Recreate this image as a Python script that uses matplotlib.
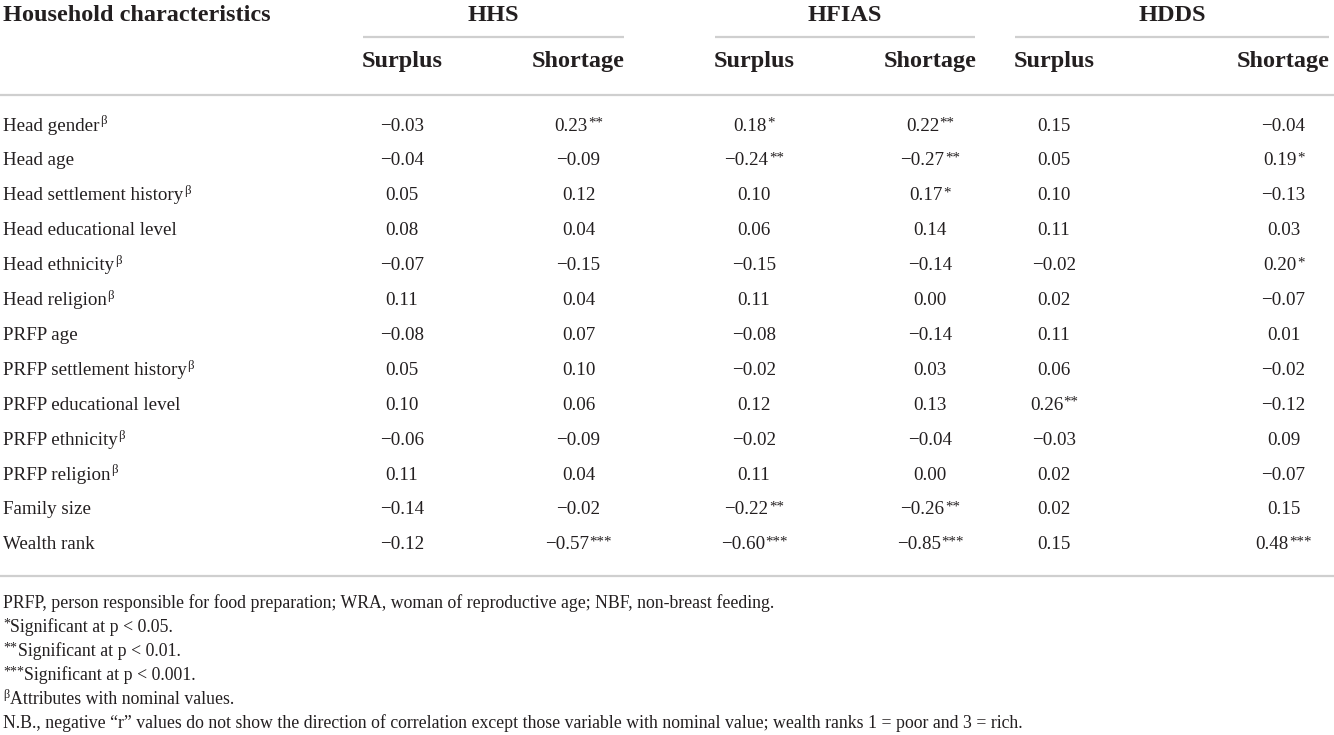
import matplotlib
matplotlib.use("Agg")
import matplotlib.pyplot as plt

plt.rcParams['font.family'] = ['Liberation Serif', 'DejaVu Serif']

# ---- data ----
row_labels = ["Head gender", "Head age", "Head settlement history", "Head educational level",
              "Head ethnicity", "Head religion", "PRFP age", "PRFP settlement history",
              "PRFP educational level", "PRFP ethnicity", "PRFP religion", "Family size", "Wealth rank"]
row_marks = ["β", "", "β", "", "β", "β", "", "β", "", "β", "β", "", ""]
groups = ["HHS", "HFIAS", "HDDS"]
sub_headers = ["Surplus", "Shortage"]

hhs_surplus = ["−0.03", "−0.04", "0.05", "0.08", "−0.07", "0.11", "−0.08", "0.05", "0.10", "−0.06", "0.11", "−0.14", "−0.12"]
hhs_shortage = ["0.23**", "−0.09", "0.12", "0.04", "−0.15", "0.04", "0.07", "0.10", "0.06", "−0.09", "0.04", "−0.02", "−0.57***"]
hfias_surplus = ["0.18*", "−0.24**", "0.10", "0.06", "−0.15", "0.11", "−0.08", "−0.02", "0.12", "−0.02", "0.11", "−0.22**", "−0.60***"]
hfias_shortage = ["0.22**", "−0.27**", "0.17*", "0.14", "−0.14", "0.00", "−0.14", "0.03", "0.13", "−0.04", "0.00", "−0.26**", "−0.85***"]
hdds_surplus = ["0.15", "0.05", "0.10", "0.11", "−0.02", "0.02", "0.11", "0.06", "0.26**", "−0.03", "0.02", "0.02", "0.15"]
hdds_shortage = ["−0.04", "0.19*", "−0.13", "0.03", "0.20*", "−0.07", "0.01", "−0.02", "−0.12", "0.09", "−0.07", "0.15", "0.48***"]
columns = [hhs_surplus, hhs_shortage, hfias_surplus, hfias_shortage, hdds_surplus, hdds_shortage]

footnote_marks = ["", "*", "**", "***", "β", ""]
footnotes = [
    "PRFP, person responsible for food preparation; WRA, woman of reproductive age; NBF, non-breast feeding.",
    "Significant at p < 0.05.",
    "Significant at p < 0.01.",
    "Significant at p < 0.001.",
    "Attributes with nominal values.",
    "N.B., negative \u201cr\u201d values do not show the direction of correlation except those variable with nominal value; wealth ranks 1 = poor and 3 = rich.",
]

# ---- layout (pixels) ----
W, H = 1334, 735
fig = plt.figure(figsize=(W / 100, H / 100), dpi=100)
ax = fig.add_axes([0, 0, 1, 1])
ax.set_xlim(0, W)
ax.set_ylim(H, 0)
ax.axis("off")
renderer = fig.canvas.get_renderer()

txt = "#231f20"
line_c = "#cfcfcf"
hdr_fs = 17.5
body_fs = 13.7
foot_fs = 12.8


def width(t):
    return t.get_window_extent(renderer).width


def sup_style(sup, fs):
    if sup.startswith("*"):
        return fs * 0.78, fs * 0.22
    return fs * 0.68, fs * 0.33


def main_sup(x, y, main, sup, fs, align="left"):
    """Draw main text followed by a superscript; align 'left' or 'center' at x."""
    t1 = ax.text(0, y, main, fontsize=fs, ha="left", va="center", color=txt)
    t2 = None
    w1 = width(t1)
    w2 = 0
    if sup:
        sfs, rise = sup_style(sup, fs)
        t2 = ax.text(0, y - rise, sup, fontsize=sfs, ha="left", va="center", color=txt)
        w2 = width(t2)
    x0 = x - (w1 + w2) / 2 if align == "center" else x
    t1.set_x(x0)
    if t2 is not None:
        t2.set_x(x0 + w1 + 0.5)


def sup_main(x, y, sup, main, fs):
    """Superscript mark followed by main text, left-aligned at x."""
    w = 0
    if sup:
        sfs, rise = sup_style(sup, fs)
        t0 = ax.text(x, y - rise, sup, fontsize=sfs, ha="left", va="center", color=txt)
        w = width(t0) + 0.5
    ax.text(x + w, y, main, fontsize=fs, ha="left", va="center", color=txt)


col_spans = [(363, 441), (533, 624), (715, 793), (885, 975), (1015, 1093), (1238, 1329)]
col_centers = [(a + b) / 2 for a, b in col_spans]
group_spans = [(363, 624), (715, 975), (1015, 1329)]

ax.text(3, 15, "Household characteristics", fontsize=hdr_fs, fontweight="bold",
        ha="left", va="center", color=txt)
for g, (a, b) in zip(groups, group_spans):
    ax.text((a + b) / 2, 15, g, fontsize=hdr_fs, fontweight="bold", ha="center", va="center", color=txt)
    ax.plot([a, b], [37, 37], color=line_c, lw=1.6, solid_capstyle="butt")
for i, c in enumerate(col_centers):
    ax.text(c, 61, sub_headers[i % 2], fontsize=hdr_fs, fontweight="bold", ha="center", va="center", color=txt)

ax.plot([0, W], [95, 95], color=line_c, lw=1.6)
ax.plot([0, W], [576, 576], color=line_c, lw=1.6)

y0, dy = 126, 34.9
for r, lab in enumerate(row_labels):
    y = y0 + r * dy
    main_sup(3, y, lab, row_marks[r], body_fs)
    for c, colvals in zip(col_centers, columns):
        v = colvals[r]
        n = v.rstrip("*")
        main_sup(c, y, n, v[len(n):], body_fs, align="center")

fy0, fdy = 603, 24
for i, f in enumerate(footnotes):
    sup_main(3, fy0 + i * fdy, footnote_marks[i], f, foot_fs)

fig.savefig("out.png", dpi=100, facecolor="white")
